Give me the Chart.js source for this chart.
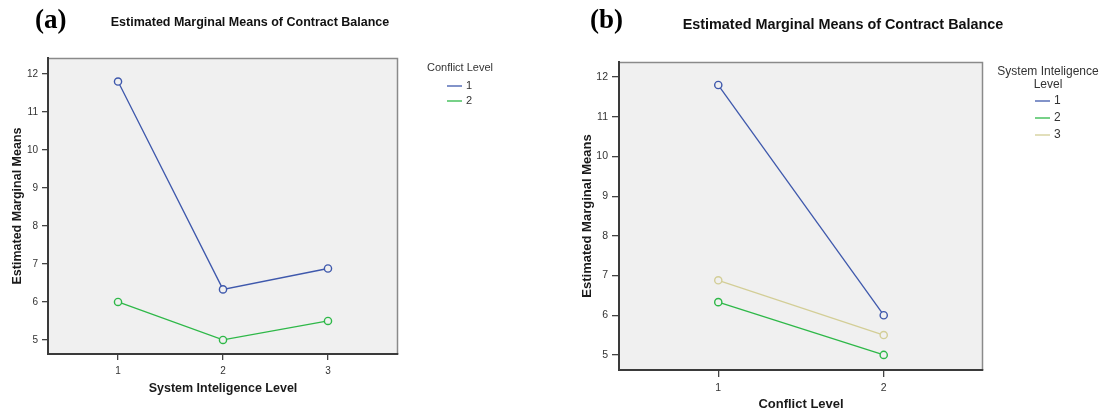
<!DOCTYPE html>
<html>
<head>
<meta charset="utf-8">
<script src="https://cdn.jsdelivr.net/npm/chart.js@4.4.1/dist/chart.umd.min.js"></script>
<style>
  html, body { margin: 0; padding: 0; background: #ffffff; overflow: hidden; }
  #wrap { position: relative; width: 1105px; height: 417px; }
  canvas { position: absolute; top: 0; }
</style>
</head>
<body>
<div id="wrap">
  <canvas id="chartA" width="552" height="417" style="left:0px"></canvas>
  <canvas id="chartB" width="553" height="417" style="left:552px"></canvas>
</div>
<script>
// ---------------- DATA ----------------
const chartTitle = "Estimated Marginal Means of Contract Balance";
const yAxisTitle = "Estimated Marginal Means";
const yTickValues = [5, 6, 7, 8, 9, 10, 11, 12];

// Panel (a): x = System Inteligence Level, series = Conflict Level
const siLevels = [1, 2, 3];
const conflict1Means = [11.8, 6.33, 6.88];
const conflict2Means = [6.0, 5.0, 5.5];
const conflictLegendNames = ["1", "2"];

// Panel (b): x = Conflict Level, series = System Inteligence Level
const conflictLevels = [1, 2];
const si1Means = [11.8, 6.0];
const si2Means = [6.33, 5.0];
const si3Means = [6.88, 5.5];
const siLegendNames = ["1", "2", "3"];

// ---------------- STYLE ----------------
const COLORS = ["#3e58ac", "#2eb848", "#d3ce97"];
const PLOT_BG = "#f0f0f0";
const SANS = "'Liberation Sans', Arial, sans-serif";

function pts(xs, ys) { return xs.map((x, i) => ({ x: x, y: ys[i] })); }

function makeDataset(label, xs, ys, color) {
  return {
    label: label,
    data: pts(xs, ys),
    borderColor: color,
    backgroundColor: PLOT_BG,
    borderWidth: 1.3,
    pointRadius: 3.6,
    pointBorderWidth: 1.4,
    pointBackgroundColor: PLOT_BG,
    pointBorderColor: color,
    tension: 0
  };
}

const frameAndDecor = {
  id: 'frameAndDecor',
  beforeDraw(chart, args, o) {
    const { ctx, chartArea: a } = chart;
    ctx.save();
    ctx.fillStyle = PLOT_BG;
    ctx.fillRect(a.left, a.top, a.right - a.left, a.bottom - a.top);
    ctx.strokeStyle = "#8a8a8a";
    ctx.lineWidth = 1.5;
    ctx.beginPath();
    ctx.moveTo(a.left, a.top + 0.5);
    ctx.lineTo(a.right - 0.5, a.top + 0.5);
    ctx.lineTo(a.right - 0.5, a.bottom);
    ctx.stroke();
    ctx.restore();
  },
  afterDraw(chart, args, o) {
    const ctx = chart.ctx;
    ctx.save();
    // panel label
    ctx.fillStyle = "#000";
    ctx.font = "bold " + o.labelSize + "px 'Liberation Serif', 'Times New Roman', serif";
    ctx.textAlign = "left";
    ctx.textBaseline = "alphabetic";
    ctx.fillText(o.panelLabel, o.labelX, o.labelY);
    // title
    ctx.font = "bold " + o.titleSize + "px " + SANS;
    ctx.textAlign = "center";
    ctx.textBaseline = "middle";
    ctx.fillStyle = "#111";
    ctx.fillText(chartTitle, o.titleX, o.titleY);
    // legend
    ctx.font = o.legSize + "px " + SANS;
    ctx.fillStyle = "#333";
    let y = o.legY;
    o.legTitle.forEach(t => {
      ctx.textAlign = "center";
      ctx.fillText(t, o.legX, y);
      y += o.legTitleStep;
    });
    y += o.legGap;
    chart.data.datasets.forEach((ds, i) => {
      ctx.strokeStyle = ds.borderColor;
      ctx.lineWidth = 1.3;
      ctx.beginPath();
      ctx.moveTo(o.legLineX0, y);
      ctx.lineTo(o.legLineX1, y);
      ctx.stroke();
      ctx.fillStyle = "#333";
      ctx.textAlign = "left";
      ctx.fillText(o.legNames[i], o.legLineX1 + 4, y);
      y += o.legStep;
    });
    ctx.restore();
  }
};

function buildOptions(cfg) {
  return {
    responsive: false,
    animation: false,
    devicePixelRatio: 1,
    layout: { padding: cfg.padding },
    plugins: {
      legend: { display: false },
      title: { display: false },
      tooltip: { enabled: false },
      frameAndDecor: cfg.decor
    },
    scales: {
      x: {
        type: 'linear',
        min: cfg.xMin, max: cfg.xMax,
        afterBuildTicks: s => { s.ticks = cfg.xTicks.map(v => ({ value: v })); },
        afterFit: s => { s.height = cfg.xHeight; },
        grid: { drawOnChartArea: false, drawTicks: true, tickLength: cfg.tickLen, color: "#444", lineWidth: 1.3 },
        border: { display: true, color: "#3a3a3a", width: 2 },
        ticks: { color: "#333", font: { family: SANS, size: cfg.tickSize }, padding: cfg.xTickPad, maxRotation: 0, callback: v => String(v) },
        title: { display: true, text: cfg.xTitle, color: "#1a1a1a", font: { family: SANS, size: cfg.axisTitleSize, weight: 'bold' }, padding: { top: 0, bottom: cfg.xTitlePad } }
      },
      y: {
        type: 'linear',
        min: cfg.yMin, max: cfg.yMax,
        afterBuildTicks: s => { s.ticks = yTickValues.map(v => ({ value: v })); },
        afterFit: s => { s.width = cfg.yWidth; },
        grid: { drawOnChartArea: false, drawTicks: true, tickLength: cfg.tickLen, color: "#444", lineWidth: 1.3 },
        border: { display: true, color: "#3a3a3a", width: 2 },
        ticks: { color: "#333", font: { family: SANS, size: cfg.tickSize }, padding: cfg.yTickPad, callback: v => String(v) },
        title: { display: true, text: yAxisTitle, color: "#1a1a1a", font: { family: SANS, size: cfg.axisTitleSize, weight: 'bold' }, padding: { top: cfg.yTitlePad, bottom: 0 } }
      }
    }
  };
}

// Panel (a)
new Chart(document.getElementById('chartA'), {
  type: 'line',
  data: {
    datasets: [
      makeDataset("Conflict Level 1", siLevels, conflict1Means, COLORS[0]),
      makeDataset("Conflict Level 2", siLevels, conflict2Means, COLORS[1])
    ]
  },
  options: buildOptions({
    padding: { left: 4, top: 58, right: 154, bottom: 18 },
    xMin: 0.333, xMax: 3.667, xTicks: siLevels,
    yMin: 4.63, yMax: 12.42,
    xHeight: 45, yWidth: 44,
    tickLen: 6, tickSize: 10, xTickPad: 5, yTickPad: 4,
    axisTitleSize: 12.5, xTitlePad: 3, yTitlePad: 6,
    xTitle: "System Inteligence Level",
    decor: {
      panelLabel: "(a)", labelX: 35, labelY: 28, labelSize: 27,
      titleX: 250, titleY: 23, titleSize: 12.5,
      legX: 460, legY: 68, legTitle: ["Conflict Level"], legTitleStep: 14, legGap: 4,
      legLineX0: 447, legLineX1: 462, legStep: 15, legSize: 11,
      legNames: conflictLegendNames
    }
  }),
  plugins: [frameAndDecor]
});

// Panel (b)
new Chart(document.getElementById('chartB'), {
  type: 'line',
  data: {
    datasets: [
      makeDataset("SI Level 1", conflictLevels, si1Means, COLORS[0]),
      makeDataset("SI Level 2", conflictLevels, si2Means, COLORS[1]),
      makeDataset("SI Level 3", conflictLevels, si3Means, COLORS[2])
    ]
  },
  options: buildOptions({
    padding: { left: 20, top: 62, right: 122, bottom: 2 },
    xMin: 0.4, xMax: 2.6, xTicks: conflictLevels,
    yMin: 4.62, yMax: 12.38,
    xHeight: 45, yWidth: 47,
    tickLen: 7, tickSize: 10.5, xTickPad: 5, yTickPad: 4,
    axisTitleSize: 13, xTitlePad: 3, yTitlePad: 8,
    xTitle: "Conflict Level",
    decor: {
      panelLabel: "(b)", labelX: 38, labelY: 28, labelSize: 27,
      titleX: 291, titleY: 25, titleSize: 14.4,
      legX: 496, legY: 72, legTitle: ["System Inteligence", "Level"], legTitleStep: 13, legGap: 3,
      legLineX0: 483, legLineX1: 498, legStep: 17, legSize: 12,
      legNames: siLegendNames
    }
  }),
  plugins: [frameAndDecor]
});
</script>
</body>
</html>
